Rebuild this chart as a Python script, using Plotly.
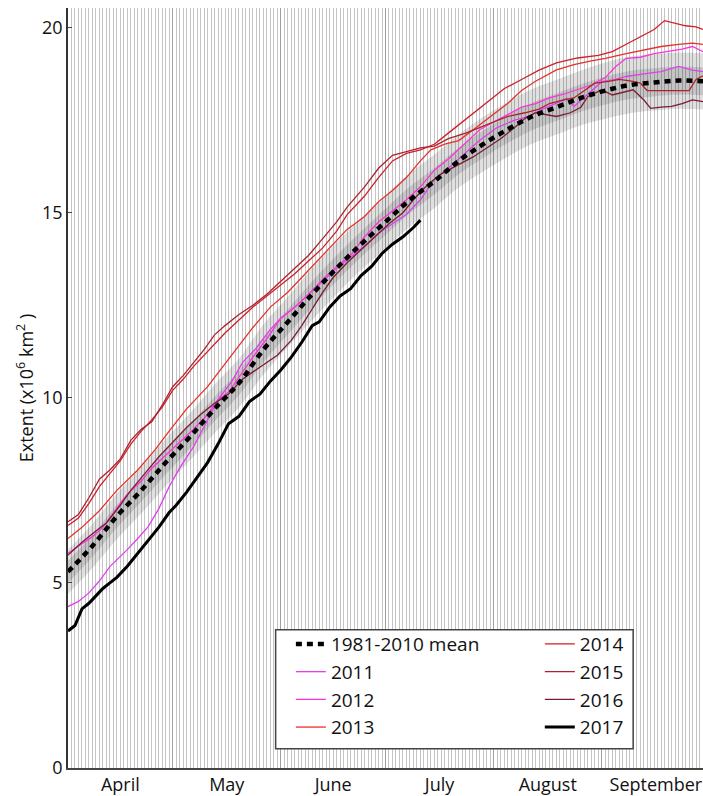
import pandas as pd
import plotly.graph_objects as go

BASE = pd.Timestamp("2017-04-01")

# 1981-2010 mean and standard deviation (x10^6 km^2), day 0 = 1 April
mean_days = [0, 7, 14, 21, 28, 35, 42, 49, 56, 63, 70, 77, 84, 91, 98, 105, 112, 119, 126, 133, 140, 147, 154, 161, 168, 175, 182]
mean_ext = [5.3, 6.0, 6.8, 7.5, 8.25, 8.95, 9.7, 10.4, 11.3, 12.05, 12.8, 13.5, 14.15, 14.75, 15.35, 15.85, 16.4, 16.85, 17.25, 17.6, 17.85, 18.1, 18.3, 18.45, 18.52, 18.57, 18.55]
mean_sd = [0.3, 0.3, 0.31, 0.31, 0.32, 0.32, 0.33, 0.33, 0.34, 0.34, 0.35, 0.35, 0.35, 0.36, 0.36, 0.36, 0.36, 0.37, 0.37, 0.37, 0.37, 0.37, 0.38, 0.38, 0.38, 0.38, 0.38]

days_2011 = [0, 3, 6, 9, 12, 15, 17, 20, 23, 26, 29, 32, 36, 40, 43, 47, 50, 54, 58, 61, 65, 69, 73, 77, 81, 85, 89, 93, 97, 101, 105, 109, 113, 118, 123, 128, 132, 136, 140, 143, 145, 149, 153, 157, 160, 165, 170, 175, 179, 182]
ext_2011 = [4.36, 4.5, 4.73, 5.05, 5.44, 5.7, 5.9, 6.2, 6.52, 7.0, 7.6, 8.1, 8.68, 9.4, 9.95, 10.45, 10.95, 11.35, 11.85, 12.15, 12.45, 12.8, 13.15, 13.5, 13.8, 14.1, 14.45, 14.7, 14.95, 15.35, 15.9, 16.2, 16.55, 16.96, 17.3, 17.5, 17.6, 17.8, 17.96, 18.09, 17.87, 18.2, 18.54, 18.6, 18.68, 18.75, 18.81, 18.95, 18.85, 18.81]

days_2012 = [0, 4, 7, 10, 14, 17, 21, 24, 28, 32, 36, 40, 43, 46, 50, 53, 57, 61, 65, 69, 73, 77, 81, 85, 89, 93, 97, 101, 105, 109, 113, 118, 122, 126, 130, 134, 138, 142, 146, 150, 154, 157, 160, 164, 168, 172, 176, 179, 182]
ext_2012 = [5.8, 6.05, 6.25, 6.5, 7.0, 7.4, 7.75, 8.1, 8.45, 8.8, 9.15, 9.55, 9.95, 10.15, 10.7, 11.1, 11.6, 12.15, 12.45, 12.8, 13.2, 13.55, 13.85, 14.35, 14.75, 15.05, 15.35, 15.7, 16.15, 16.45, 16.8, 17.24, 17.45, 17.64, 17.85, 17.95, 18.1, 18.2, 18.32, 18.45, 18.65, 18.95, 19.17, 19.2, 19.3, 19.35, 19.42, 19.49, 19.35]

days_2013 = [0, 4, 9, 14, 20, 25, 29, 34, 40, 44, 49, 53, 58, 63, 67, 72, 76, 80, 85, 89, 93, 97, 101, 104, 108, 112, 117, 122, 126, 130, 134, 140, 145, 150, 154, 160, 165, 170, 175, 179, 182]
ext_2013 = [6.2, 6.5, 6.95, 7.5, 8.05, 8.6, 9.1, 9.7, 10.3, 10.8, 11.4, 11.9, 12.45, 12.85, 13.25, 13.75, 14.15, 14.55, 14.9, 15.3, 15.6, 15.95, 16.4, 16.7, 16.85, 16.95, 17.3, 17.65, 17.95, 18.3, 18.55, 18.86, 19.0, 19.1, 19.17, 19.3, 19.4, 19.49, 19.55, 19.58, 19.55]

days_2014 = [0, 3, 6, 9, 12, 15, 18, 21, 24, 27, 30, 33, 36, 39, 42, 45, 49, 53, 57, 61, 65, 69, 73, 77, 80, 85, 89, 93, 97, 101, 105, 109, 113, 117, 121, 125, 130, 135, 140, 146, 152, 156, 160, 164, 168, 171, 174, 177, 180, 182]
ext_2014 = [6.55, 6.75, 7.15, 7.6, 7.95, 8.3, 8.75, 9.1, 9.4, 9.75, 10.2, 10.5, 10.85, 11.15, 11.45, 11.75, 12.1, 12.45, 12.75, 13.05, 13.35, 13.7, 14.05, 14.5, 14.95, 15.45, 15.95, 16.4, 16.6, 16.7, 16.85, 17.15, 17.45, 17.75, 18.05, 18.35, 18.6, 18.85, 19.05, 19.18, 19.25, 19.35, 19.55, 19.75, 19.95, 20.19, 20.12, 20.05, 20.02, 19.95]

days_2015 = [0, 3, 6, 9, 12, 15, 18, 21, 24, 27, 30, 33, 36, 39, 42, 45, 49, 53, 57, 61, 65, 69, 73, 77, 80, 85, 89, 93, 97, 101, 105, 109, 114, 118, 122, 126, 131, 135, 138, 142, 145, 148, 151, 155, 158, 162, 164, 166, 170, 175, 178, 180, 182]
ext_2015 = [6.65, 6.85, 7.3, 7.8, 8.05, 8.35, 8.85, 9.15, 9.35, 9.8, 10.3, 10.6, 10.95, 11.3, 11.7, 11.95, 12.25, 12.5, 12.8, 13.15, 13.5, 13.85, 14.3, 14.75, 15.15, 15.7, 16.2, 16.55, 16.65, 16.75, 16.8, 17.0, 17.15, 17.3, 17.45, 17.6, 17.7, 17.8, 17.95, 18.05, 18.1, 18.3, 18.5, 18.55, 18.6, 18.55, 18.5, 18.3, 18.3, 18.32, 18.3, 18.6, 18.7]

days_2016 = [0, 4, 8, 11, 15, 18, 22, 26, 30, 34, 38, 42, 46, 50, 53, 57, 60, 64, 67, 70, 73, 76, 80, 84, 88, 92, 96, 99, 103, 107, 111, 116, 120, 124, 128, 131, 134, 137, 140, 144, 147, 149, 153, 156, 159, 162, 165, 167, 170, 173, 176, 179, 182]
ext_2016 = [5.75, 6.1, 6.4, 6.62, 7.1, 7.5, 7.95, 8.4, 8.8, 9.2, 9.55, 9.85, 10.1, 10.5, 10.7, 10.95, 11.15, 11.55, 11.95, 12.4, 12.85, 13.25, 13.65, 14.0, 14.35, 14.7, 15.0, 15.35, 15.75, 16.05, 16.25, 16.5, 16.75, 17.0, 17.3, 17.55, 17.7, 17.65, 17.6, 17.7, 17.85, 18.14, 18.32, 18.18, 18.25, 18.32, 18.05, 17.82, 17.85, 17.87, 17.95, 18.05, 18.0]

days_2017 = [0, 2, 4, 6, 8, 10, 12, 14, 17, 20, 23, 26, 29, 31, 34, 37, 40, 43, 46, 49, 52, 55, 58, 61, 64, 67, 70, 72, 75, 78, 81, 84, 87, 90, 93, 96, 99, 101]
ext_2017 = [3.7, 3.85, 4.3, 4.45, 4.65, 4.85, 5.0, 5.15, 5.45, 5.8, 6.15, 6.5, 6.9, 7.1, 7.45, 7.85, 8.25, 8.75, 9.3, 9.5, 9.9, 10.1, 10.45, 10.75, 11.1, 11.5, 11.95, 12.05, 12.45, 12.75, 12.95, 13.3, 13.55, 13.9, 14.15, 14.35, 14.6, 14.8]

years = ["2011", "2012", "2013", "2014", "2015", "2016"]
year_days = [days_2011, days_2012, days_2013, days_2014, days_2015, days_2016]
year_ext = [ext_2011, ext_2012, ext_2013, ext_2014, ext_2015, ext_2016]
year_colors = ["#e040ee", "#ff33dd", "#e8302a", "#cf1f2a", "#b0202e", "#7a1c34"]
year_legend = ["legend", "legend", "legend", "legend2", "legend2", "legend2"]
year_rank = [2, 3, 4, 5, 6, 7]


def to_dates(days):
    return BASE + pd.to_timedelta(days, unit="D")


FONT = "Open Sans"
fig = go.Figure()

mx = to_dates(mean_days)
outer_hi = [m + 2 * s for m, s in zip(mean_ext, mean_sd)]
outer_lo = [m - 2 * s for m, s in zip(mean_ext, mean_sd)]
inner_hi = [m + s for m, s in zip(mean_ext, mean_sd)]
inner_lo = [m - s for m, s in zip(mean_ext, mean_sd)]

for hi, lo, col in [(outer_hi, outer_lo, "rgba(0,0,0,0.12)"), (inner_hi, inner_lo, "rgba(0,0,0,0.12)")]:
    fig.add_trace(go.Scatter(x=mx, y=lo, mode="lines", line=dict(width=0, shape="spline"),
                             showlegend=False, hoverinfo="skip"))
    fig.add_trace(go.Scatter(x=mx, y=hi, mode="lines", line=dict(width=0, shape="spline"),
                             fill="tonexty", fillcolor=col, showlegend=False, hoverinfo="skip"))

for i, yr in enumerate(years):
    fig.add_trace(go.Scatter(x=to_dates(year_days[i]), y=year_ext[i], mode="lines", name=yr,
                             line=dict(color=year_colors[i], width=1.3),
                             legend=year_legend[i], legendrank=year_rank[i], legendgroup=yr))

fig.add_trace(go.Scatter(x=mx, y=mean_ext, mode="lines", name="1981-2010 mean",
                         line=dict(color="black", width=4.5, dash="6px,5px", shape="spline"),
                         legend="legend", legendrank=1, legendgroup="mean"))

fig.add_trace(go.Scatter(x=to_dates(days_2017), y=ext_2017, mode="lines", name="2017",
                         line=dict(color="black", width=3),
                         legend="legend2", legendrank=8, legendgroup="2017"))

# legend frame
fig.add_shape(type="rect", xref="paper", yref="paper", x0=0.327, x1=0.890, y0=0.0254, y1=0.182,
              line=dict(color="#444444", width=1.5), fillcolor="white", layer="above")

leg_common = dict(font=dict(family=FONT, size=19, color="#111111"), bgcolor="rgba(0,0,0,0)",
                  borderwidth=0, xanchor="left", yanchor="top", tracegroupgap=1.2,
                  traceorder="normal")
fig.update_layout(
    width=703, height=796,
    margin=dict(l=68, r=0, t=8, b=28),
    paper_bgcolor="white", plot_bgcolor="white",
    font=dict(family=FONT, size=18, color="#111111"),
    legend=dict(x=0.351, y=0.188, **leg_common),
    legend2=dict(x=0.743, y=0.188, **leg_common),
    xaxis=dict(
        type="date",
        range=[BASE, BASE + pd.Timedelta(days=182)],
        tick0=BASE, dtick="M1", tickformat="%B", ticklabelmode="period",
        showgrid=True, gridcolor="#a0a0a0", gridwidth=1.3,
        minor=dict(dtick=86400000, showgrid=True, gridcolor="#c4c4c4", gridwidth=1, ticks=""),
        ticks="", showline=True, linecolor="#444444", linewidth=1.5,
        tickfont=dict(family=FONT, size=18), zeroline=False,
    ),
    yaxis=dict(
        range=[0, 20.53], tickvals=[0, 5, 10, 15, 20], ticks="inside", ticklen=4,
        tickcolor="#444444", showgrid=False, zeroline=False, showline=True,
        linecolor="#333333", linewidth=1.5, tickfont=dict(family=FONT, size=18),
        title=dict(text="Extent (x10<sup>6</sup> km<sup>2</sup> )", font=dict(family=FONT, size=18),
                   standoff=4),
    ),
)

fig.write_html("out.html")
